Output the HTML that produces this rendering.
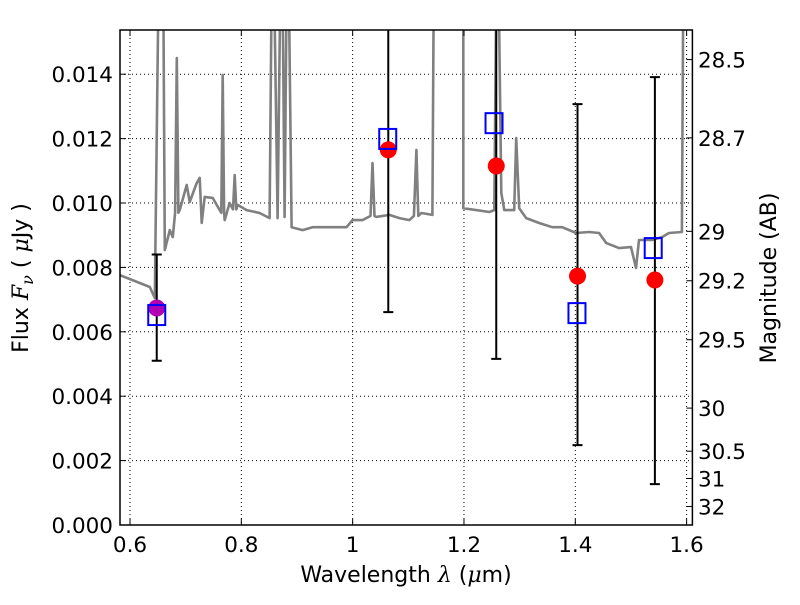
<!DOCTYPE html>
<html><head><meta charset="utf-8"><style>
body{margin:0;background:#fff}
svg text{font-family:"DejaVu Sans","Liberation Sans",sans-serif;fill:#000}
</style></head><body>
<svg id="chart" width="800" height="600" viewBox="0 0 800 600" xmlns="http://www.w3.org/2000/svg">
<defs><clipPath id="clip"><rect x="120" y="30" width="572.4" height="495"/></clipPath></defs>
<rect x="0" y="0" width="800" height="600" fill="#fff"/>
<g id="grid"></g>
<g id="spec" clip-path="url(#clip)"></g>
<g id="marks" clip-path="url(#clip)"></g>
<g id="axes"></g>
<text x="406" y="582" font-size="22" text-anchor="middle">Wavelength  <tspan font-style="italic" font-family="DejaVu Serif, serif">λ</tspan> (<tspan font-style="italic" font-family="DejaVu Serif, serif">μ</tspan>m)</text>
<text transform="translate(28,278) rotate(-90)" font-size="22" text-anchor="middle">Flux  <tspan font-style="italic" font-family="DejaVu Serif, serif">F</tspan><tspan font-size="16" dy="5" font-style="italic" font-family="DejaVu Serif, serif">ν</tspan><tspan dy="-5">  (  </tspan><tspan font-style="italic" font-family="DejaVu Serif, serif">μ</tspan>Jy )</text>
<text transform="translate(776,278) rotate(-90)" font-size="22" text-anchor="middle">Magnitude (AB)</text>
</svg>
<script>
const xTicks=[0.6,0.8,1.0,1.2,1.4,1.6];
const xTickLabels=["0.6","0.8","1","1.2","1.4","1.6"];
const yTicks=[0,0.002,0.004,0.006,0.008,0.010,0.012,0.014];
const yTickLabels=["0.000","0.002","0.004","0.006","0.008","0.010","0.012","0.014"];
const magTicks=[28.5,28.7,29,29.2,29.5,30,30.5,31,32];
const magTickLabels=["28.5","28.7","29","29.2","29.5","30","30.5","31","32"];
const specWave=[0.5817,0.6355,0.6445,0.6535,0.6588,0.6624,0.6714,0.6768,0.681,0.684,0.687,0.6893,0.7019,0.7073,0.7198,0.7252,0.7288,0.7342,0.7485,0.7611,0.764,0.7665,0.769,0.7701,0.779,0.785,0.788,0.791,0.7934,0.8095,0.8329,0.8508,0.8562,0.8651,0.8723,0.8777,0.8831,0.8903,0.91,0.928,0.9638,0.9889,0.9997,1.0176,1.0320,1.0356,1.0392,1.0428,1.0661,1.084,1.102,1.110,1.1145,1.118,1.1235,1.1432,1.1468,1.1988,1.1988,1.2455,1.2544,1.2598,1.267,1.2724,1.2903,1.2939,1.2993,1.3118,1.3352,1.3585,1.3764,1.4015,1.4248,1.4427,1.4553,1.4786,1.5001,1.5091,1.5145,1.5378,1.5558,1.5683,1.5916,1.5952];
const specFlux=[0.00776,0.00739,0.00705,0.02,0.02,0.00854,0.00916,0.00894,0.0097,0.0145,0.0097,0.00978,0.01056,0.01003,0.01062,0.01078,0.00938,0.01019,0.01016,0.00978,0.0097,0.01398,0.0097,0.00947,0.01,0.0098,0.01087,0.0098,0.00994,0.00978,0.00969,0.00953,0.02,0.00953,0.02,0.00957,0.02,0.00925,0.00916,0.00925,0.00925,0.00925,0.00947,0.00947,0.0096,0.01124,0.0096,0.00957,0.00963,0.00953,0.00947,0.0096,0.01165,0.0096,0.00969,0.00963,0.02,0.02,0.00984,0.00972,0.00978,0.02,0.01031,0.00978,0.00978,0.01202,0.00984,0.00953,0.00938,0.00925,0.00925,0.00907,0.0091,0.00907,0.00876,0.0086,0.00863,0.00798,0.00885,0.00885,0.00894,0.00907,0.0091,0.02];
const modelWave=[0.648,1.063,1.254,1.403,1.54];
const modelFlux=[0.00652,0.01199,0.01248,0.00658,0.0086];
const obsWave=[1.064,1.258,1.404,1.543];
const obsFlux=[0.01165,0.01115,0.00773,0.00761];
const errWave=[0.648,1.064,1.258,1.404,1.543];
const errLow=[0.0051,0.00661,0.00516,0.00248,0.00127];
const errHigh=[0.0084,0.02,0.02,0.01307,0.01391];
const purpleWave=[0.648];
const purpleFlux=[0.00674];

const L=120,R=692.4,T=30,B=525;
const xMin=0.582,xMax=1.6104,yMin=0,yMax=0.015373;
const X=v=>L+(v-xMin)/(xMax-xMin)*(R-L);
const Y=v=>B-(v-yMin)/(yMax-yMin)*(B-T);
const magY=m=>Y(Math.pow(10,(23.9-m)/2.5));
const NS="http://www.w3.org/2000/svg";
function mk(parent,tag,attrs){const e=document.createElementNS(NS,tag);for(const k in attrs)e.setAttribute(k,attrs[k]);document.getElementById(parent).appendChild(e);return e;}

xTicks.forEach((v,i)=>{
  const x=X(v);
  let g=mk('grid','line',{x1:x,x2:x,y1:T,y2:B,stroke:'#000','stroke-width':1,'stroke-dasharray':'1,3'});
  
  
  mk('axes','line',{x1:x,x2:x,y1:B,y2:B-6,stroke:'#000'});
  mk('axes','line',{x1:x,x2:x,y1:T,y2:T+6,stroke:'#000'});
  let t=mk('axes','text',{x:x,y:B+27,'font-size':21.5,'text-anchor':'middle'});
  t.textContent=xTickLabels[i];
  
  
});
yTicks.forEach((v,i)=>{
  const y=Y(v);
  let g=mk('grid','line',{x1:L,x2:R,y1:y,y2:y,stroke:'#000','stroke-width':1,'stroke-dasharray':'1,3'});
  
  
  mk('axes','line',{x1:L,x2:L+6,y1:y,y2:y,stroke:'#000'});
  let t=mk('axes','text',{x:113,y:y+8,'font-size':21.5,'text-anchor':'end'});
  t.textContent=yTickLabels[i];
  
  
});
magTicks.forEach((m,i)=>{
  const y=magY(m);
  mk('axes','line',{x1:R-6,x2:R,y1:y,y2:y,stroke:'#000'});
  let t=mk('axes','text',{x:698,y:y+8,'font-size':21.5,'text-anchor':'start'});
  t.textContent=magTickLabels[i];
  
  
});
let frame=mk('axes','rect',{x:L,y:T,width:R-L,height:B-T,fill:'none',stroke:'#000','stroke-width':1.5});



let d=specWave.map((w,i)=>(i?'L':'M')+X(w).toFixed(1)+','+Y(specFlux[i]).toFixed(1)).join(' ');
let sp=mk('spec','path',{d:d,fill:'none',stroke:'#808080','stroke-width':2.6,'stroke-linejoin':'round'});



errWave.forEach((w,i)=>{
  const x=X(w),y1=Y(errLow[i]),y2=Y(errHigh[i]);
  let l=mk('marks','path',{d:`M${x},${y1}V${y2}M${x-5},${y1}H${x+5}M${x-5},${y2}H${x+5}`,stroke:'#000','stroke-width':2,fill:'none'});
  
  
});
obsWave.forEach((w,i)=>{
  let c=mk('marks','circle',{cx:X(w),cy:Y(obsFlux[i]),r:8.5,fill:'#ff0000'});
  
  
});
purpleWave.forEach((w,i)=>{
  let c=mk('marks','circle',{cx:X(w),cy:Y(purpleFlux[i]),r:8.5,fill:'#b000b0'});
  
  
});
modelWave.forEach((w,i)=>{
  let s=mk('marks','rect',{x:X(w)-8.5,y:Y(modelFlux[i])-10,width:17,height:20,fill:'none',stroke:'#0000ff','stroke-width':2});
  
  
});
</script>
</body></html>
